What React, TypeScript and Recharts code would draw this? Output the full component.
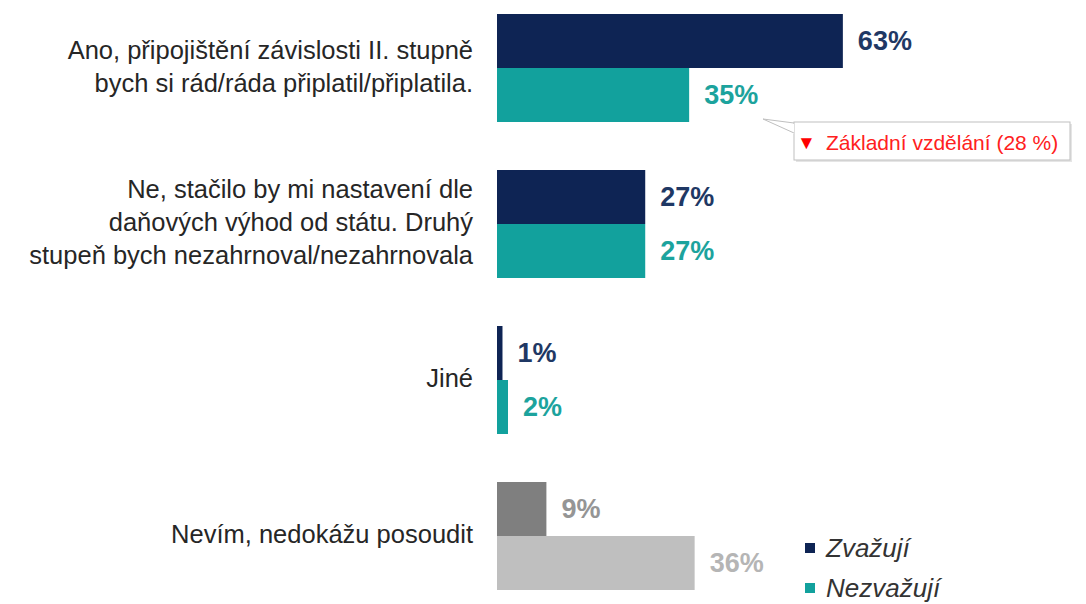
import React from "react";
import { BarChart, Bar, XAxis, YAxis, Cell, LabelList } from "recharts";

const categories = [
  "Ano, připojištění závislosti II. stupně\nbych si rád/ráda připlatil/připlatila.",
  "Ne, stačilo by mi nastavení dle\ndaňových výhod od státu. Druhý\nstupeň bych nezahrnoval/nezahrnovala",
  "Jiné",
  "Nevím, nedokážu posoudit",
];
const zvazuji = [63, 27, 1, 9];
const nezvazuji = [35, 27, 2, 36];
const seriesNames = ["Zvažují", "Nezvažují"];

const NAVY = "#0E2454";
const TEAL = "#12A19D";
const zvFill = [NAVY, NAVY, NAVY, "#7F7F7F"];
const nezFill = [TEAL, TEAL, TEAL, "#BFBFBF"];
const zvLabel = ["#1F3864", "#1F3864", "#1F3864", "#959595"];
const nezLabel = ["#1CA39D", "#1CA39D", "#1CA39D", "#B5B5B5"];

const data = categories.map((c, i) => ({ cat: c, zv: zvazuji[i], nez: nezvazuji[i] }));

const FONT = "'Liberation Sans', Arial, sans-serif";

const CatTick = (props: any) => {
  const { x, y, payload } = props;
  const lines = String(payload.value).split("\n");
  const lh = 33;
  const start = y - 2 - ((lines.length - 1) * lh) / 2;
  return (
    <text x={x - 16} y={start} textAnchor="end" fontFamily={FONT} fontSize={25.5} fill="#262626">
      {lines.map((l, i) => (
        <tspan key={i} x={x - 16} y={start + i * lh} dominantBaseline="central">
          {l}
        </tspan>
      ))}
    </text>
  );
};

const makeLabel = (colors: string[]) => (props: any) => {
  const { x, y, width, height, value, index } = props;
  return (
    <text
      x={x + width + 15}
      y={y + height / 2}
      dominantBaseline="central"
      fontFamily={FONT}
      fontWeight="bold"
      fontSize={27}
      fill={colors[index]}
    >
      {value}%
    </text>
  );
};

export default function App() {
  const legendColors = [NAVY, TEAL];
  return (
    <div style={{ position: "absolute", left: 0, top: 0, width: 1086, height: 604, overflow: "hidden", background: "#fff" }}>
      <div style={{ position: "absolute", left: 0, top: -10 }}>
        <BarChart
          width={1086}
          height={624}
          data={data}
          layout="vertical"
          margin={{ top: 0, right: 40, bottom: 0, left: 0 }}
          barGap={0}
          barCategoryGap={24}
        >
          <XAxis type="number" domain={[0, 100]} hide />
          <YAxis
            type="category"
            dataKey="cat"
            width={497}
            axisLine={false}
            tickLine={false}
            tick={<CatTick />}
            interval={0}
          />
          <Bar dataKey="zv" name={seriesNames[0]} barSize={54} isAnimationActive={false}>
            {data.map((_, i) => (
              <Cell key={i} fill={zvFill[i]} />
            ))}
            <LabelList dataKey="zv" content={makeLabel(zvLabel)} />
          </Bar>
          <Bar dataKey="nez" name={seriesNames[1]} barSize={54} isAnimationActive={false}>
            {data.map((_, i) => (
              <Cell key={i} fill={nezFill[i]} />
            ))}
            <LabelList dataKey="nez" content={makeLabel(nezLabel)} />
          </Bar>
        </BarChart>
      </div>
      <div style={{ position: "absolute", left: 805, top: 528, fontFamily: FONT }}>
        {seriesNames.map((n, i) => (
          <div key={n} style={{ display: "flex", alignItems: "center", height: 40 }}>
            <span style={{ width: 10, height: 10, background: legendColors[i], display: "inline-block", marginRight: 11 }} />
            <span style={{ fontStyle: "italic", fontSize: 26, color: "#333" }}>{n}</span>
          </div>
        ))}
      </div>
      <svg width={1086} height={604} style={{ position: "absolute", left: 0, top: 0, pointerEvents: "none" }}>
        <rect x={796} y={124} width={276} height={38} fill="#ccc" opacity={0.5} />
        <rect x={794} y={122} width={276} height={38} fill="#fff" stroke="#BFBFBF" strokeWidth={1} />
        <polygon points="794,124 763,119 794,134" fill="#fff" />
        <polyline points="794,123 763,119 794,133" fill="none" stroke="#BFBFBF" strokeWidth={1} />
        <text x={797} y={142} fontFamily={FONT} fontSize={19} fill="#FF0000" dominantBaseline="central">▼</text>
        <text x={826} y={142} fontFamily={FONT} fontSize={21} fill="#FF2020" dominantBaseline="central">
          Základní vzdělání (28 %)
        </text>
      </svg>
    </div>
  );
}
